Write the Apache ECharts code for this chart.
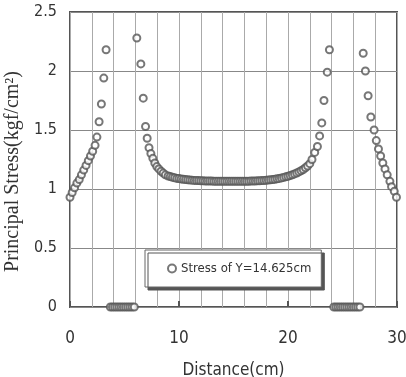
<!DOCTYPE html>
<html>
<head>
<meta charset="utf-8">
<script src="https://cdn.jsdelivr.net/npm/echarts@6/dist/echarts.min.js"></script>
<style>
html, body { margin: 0; padding: 0; background: #fff; }
#chart { width: 406px; height: 377px; }
</style>
</head>
<body>
<div id="chart"></div>
<script>
// distance (cm) / principal stress (kgf/cm2)
const leftEdgeX = [0, 0.2, 0.42, 0.63, 0.85, 1.05, 1.26, 1.47, 1.68, 1.88, 2.08, 2.3, 2.47, 2.67, 2.88, 3.1, 3.31]
const leftEdgeY = [0.93, 0.97, 1.01, 1.05, 1.08, 1.12, 1.16, 1.2, 1.24, 1.28, 1.32, 1.37, 1.44, 1.57, 1.72, 1.94, 2.18]

const leftGapX = [3.7, 3.9, 4.1, 4.3, 4.5, 4.7, 4.9, 5.1, 5.3, 5.5, 5.7, 5.9]
const leftGapY = [0, 0, 0, 0, 0, 0, 0, 0, 0, 0, 0, 0]

const middleX = [6.13, 6.5, 6.72, 6.93, 7.08, 7.25, 7.42, 7.6, 7.78, 7.96, 8.15, 8.35, 8.55, 8.75,
  9.0, 9.2, 9.4, 9.6, 9.8, 10.0, 10.2, 10.4, 10.6, 10.8, 11.0, 11.2, 11.4, 11.6, 11.8, 12.0,
  12.2, 12.4, 12.6, 12.8, 13.0, 13.2, 13.4, 13.6, 13.8, 14.0, 14.2, 14.4, 14.6, 14.8, 15.0,
  15.2, 15.4, 15.6, 15.8, 16.0, 16.2, 16.4, 16.6, 16.8, 17.0, 17.2, 17.4, 17.6, 17.8, 18.0,
  18.2, 18.4, 18.6, 18.8, 19.0, 19.2, 19.4, 19.6, 19.8, 20.0, 20.2, 20.4, 20.6, 20.8, 21.0,
  21.2, 21.4, 21.6, 21.8, 22.0, 22.2, 22.45, 22.7, 22.9, 23.1, 23.3, 23.6, 23.8]
const middleY = [2.28, 2.06, 1.77, 1.53, 1.43, 1.35, 1.3, 1.26, 1.22, 1.19, 1.17, 1.15, 1.135, 1.12,
  1.11, 1.105, 1.1, 1.095, 1.09, 1.088, 1.085, 1.082, 1.08, 1.078, 1.076, 1.075, 1.073, 1.072, 1.071, 1.07,
  1.069, 1.068, 1.068, 1.067, 1.067, 1.066, 1.066, 1.065, 1.065, 1.065, 1.065, 1.065, 1.065, 1.065, 1.065,
  1.065, 1.065, 1.065, 1.065, 1.065, 1.066, 1.066, 1.067, 1.067, 1.068, 1.069, 1.07, 1.071, 1.072, 1.074,
  1.076, 1.078, 1.08, 1.083, 1.086, 1.09, 1.094, 1.098, 1.103, 1.108, 1.114, 1.12, 1.128, 1.136, 1.145,
  1.155, 1.165, 1.18, 1.195, 1.215, 1.25, 1.31, 1.36, 1.45, 1.56, 1.75, 1.99, 2.18]

const rightGapX = [24.2, 24.4, 24.6, 24.8, 25.0, 25.2, 25.4, 25.6, 25.8, 26.0, 26.2, 26.4, 26.6]
const rightGapY = [0, 0, 0, 0, 0, 0, 0, 0, 0, 0, 0, 0, 0]

const rightEdgeX = [26.9, 27.1, 27.35, 27.6, 27.9, 28.1, 28.3, 28.5, 28.7, 28.9, 29.1, 29.35, 29.5, 29.75, 29.95]
const rightEdgeY = [2.15, 2.0, 1.79, 1.61, 1.5, 1.41, 1.34, 1.28, 1.22, 1.17, 1.12, 1.065, 1.02, 0.98, 0.93]

const xLabels = ['0', '10', '20', '30']

const distance = [].concat(leftEdgeX, leftGapX, middleX, rightGapX, rightEdgeX)
const stress = [].concat(leftEdgeY, leftGapY, middleY, rightGapY, rightEdgeY)
const points = distance.map((d, i) => [d, stress[i]])

const sansFont = '"DejaVu Sans Condensed", "Roboto", sans-serif'
const chart = echarts.init(document.getElementById('chart'))
chart.setOption({
  animation: false,
  grid: {
    left: 70,
    right: 9,
    top: 12,
    bottom: 70,
    containLabel: false,
    outerBoundsMode: 'none',
    show: true,
    borderColor: '#555',
    borderWidth: 2
  },
  legend: {
    left: 145,
    top: 250,
    padding: [12, 10, 12, 22],
    backgroundColor: '#fff',
    borderColor: '#666',
    borderWidth: 1,
    shadowColor: '#555',
    shadowOffsetX: 3,
    shadowOffsetY: 3,
    shadowBlur: 0,
    itemWidth: 8,
    itemHeight: 8,
    itemGap: 6,
    textStyle: { fontFamily: sansFont, fontSize: 13, color: '#333' },
    data: [{ name: 'Stress of Y=14.625cm', icon: 'emptyCircle' }]
  },
  xAxis: {
    type: 'value',
    min: 0,
    max: 30,
    interval: 10,
    name: 'Distance(cm)',
    nameLocation: 'middle',
    nameGap: 55,
    nameTextStyle: { fontFamily: sansFont, fontSize: 17, color: '#333' },
    axisLine: { show: false },
    axisTick: { show: true, inside: true, length: 6, lineStyle: { color: '#555', width: 2 } },
    axisLabel: {
      margin: 23,
      fontFamily: sansFont,
      fontSize: 17,
      color: '#333',
      formatter: v => xLabels[v / 10]
    },
    splitLine: { show: true, lineStyle: { color: '#aaa', width: 1 } },
    minorTick: { show: false, splitNumber: 5 },
    minorSplitLine: { show: true, lineStyle: { color: '#aaa', width: 1 } }
  },
  yAxis: {
    type: 'value',
    min: 0,
    max: 2.5,
    interval: 0.5,
    name: 'Principal Stress(kgf/cm²)',
    nameLocation: 'middle',
    nameGap: 43,
    nameTextStyle: {
      fontFamily: '"Liberation Serif", "DejaVu Serif", serif',
      fontSize: 20,
      color: '#333',
      padding: [0, 24, 0, 0]
    },
    axisLine: { show: false },
    axisTick: { show: false },
    axisLabel: { margin: 13, fontFamily: sansFont, fontSize: 16, color: '#333' },
    splitLine: { show: true, lineStyle: { color: '#888', width: 1 } }
  },
  series: [{
    name: 'Stress of Y=14.625cm',
    type: 'scatter',
    symbol: 'emptyCircle',
    symbolSize: 7,
    itemStyle: { color: '#555', borderColor: '#555', borderWidth: 1.2 },
    data: points
  }]
})
</script>
</body>
</html>
